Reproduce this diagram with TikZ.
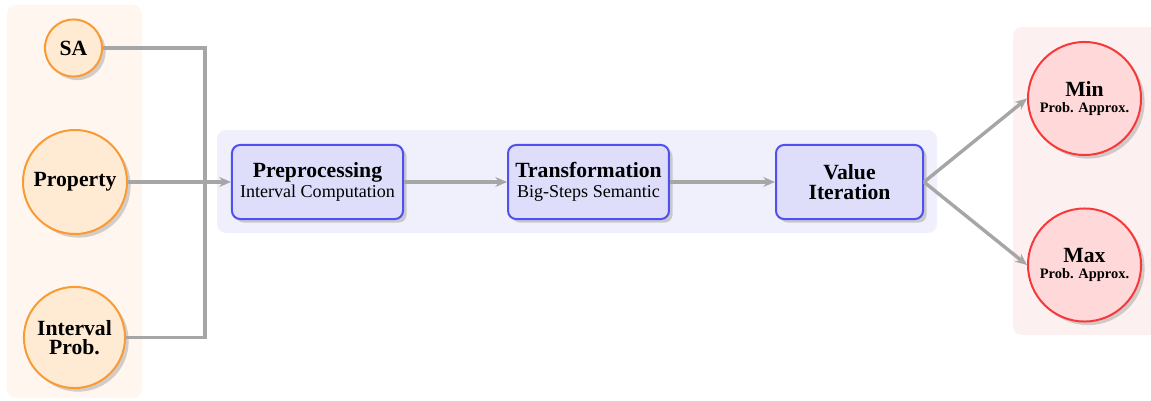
\documentclass[tikz,border=0pt]{standalone}
\usepackage{fontspec}
\setmainfont{Liberation Serif}
\usetikzlibrary{shadows,arrows.meta}
\definecolor{obg}{HTML}{FFF7EF}
\definecolor{ofill}{HTML}{FFEAD3}
\definecolor{odraw}{HTML}{FA9A32}
\definecolor{bbg}{HTML}{F0F0FC}
\definecolor{bfill}{HTML}{DEDEFB}
\definecolor{bdraw}{HTML}{5050F0}
\definecolor{rbg}{HTML}{FDF0F0}
\definecolor{rfill}{HTML}{FFD9D9}
\definecolor{rdraw}{HTML}{F83838}
\definecolor{conn}{HTML}{A6A6A6}
\tikzset{
  shad/.style={drop shadow={opacity=0.35,shadow xshift=2pt,shadow yshift=-2pt}},
  inputnode/.style={circle,draw=odraw,fill=ofill,line width=1.1pt,shad,align=center,
    inner sep=0pt,font=\fontsize{12}{10.5}\selectfont\bfseries},
  stepbox/.style={rectangle,rounded corners=4.5pt,draw=bdraw,fill=bfill,line width=1.1pt,shad,
    align=center,inner sep=0pt,minimum height=41pt,font=\fontsize{12}{11}\selectfont\bfseries},
  outnode/.style={circle,draw=rdraw,fill=rfill,line width=1.1pt,shad,align=center,
    inner sep=0pt,minimum size=62.6pt,font=\fontsize{12}{9}\selectfont\bfseries},
  conline/.style={draw=conn,line width=1.9pt},
  conarrow/.style={conline,-{Stealth[length=6.5pt,width=5.5pt,inset=2.2pt]}}
}
\newcommand{\subtxt}[1]{{\normalfont\fontsize{10}{11}\selectfont #1}}
\begin{document}
\begin{tikzpicture}[x=0.5537pt,y=-0.5537pt]
\useasboundingbox (0,0) rectangle (1151,400);
% backgrounds
\fill[obg,rounded corners=5pt] (7,5) rectangle (142,398);
\fill[bbg,rounded corners=5pt] (217,130) rectangle (937,233);
\fill[rbg,rounded corners=5pt] (1013,27) rectangle (1160,335);
% input nodes
\node[inputnode,minimum size=31.6pt] (sa) at (73.5,48) {SA};
\node[inputnode,minimum size=57.6pt] (prop) at (75,182) {Property};
\node[inputnode,minimum size=56pt] (ip) at (74.5,337.5) {Interval\\Prob.};
% steps
\node[stepbox,minimum width=94.7pt] (pre) at (317.5,182) {Preprocessing\\\subtxt{Interval Computation}};
\node[stepbox,minimum width=89.1pt] (tr) at (588.5,182) {Transformation\\\subtxt{Big-Steps Semantic}};
\node[stepbox,minimum width=81.4pt] (vi) at (849.5,182) {Value\\Iteration};
% outputs
\node[outnode] (min) at (1084.5,98.5) {Min\\{\fontsize{8}{9}\selectfont Prob. Approx.}};
\node[outnode] (max) at (1084.5,265) {Max\\{\fontsize{8}{9}\selectfont Prob. Approx.}};
% connectors
\coordinate (j) at (205,182);
\draw[conline] (sa.east) -| (j);
\draw[conline] (ip.east) -| (j);
\draw[conarrow] (prop.east) -- (pre.west);
\draw[conarrow] (pre.east) -- (tr.west);
\draw[conarrow] (tr.east) -- (vi.west);
\draw[conarrow] (vi.east) -- (min.west);
\draw[conarrow] (vi.east) -- (max.west);
\end{tikzpicture}
\end{document}
